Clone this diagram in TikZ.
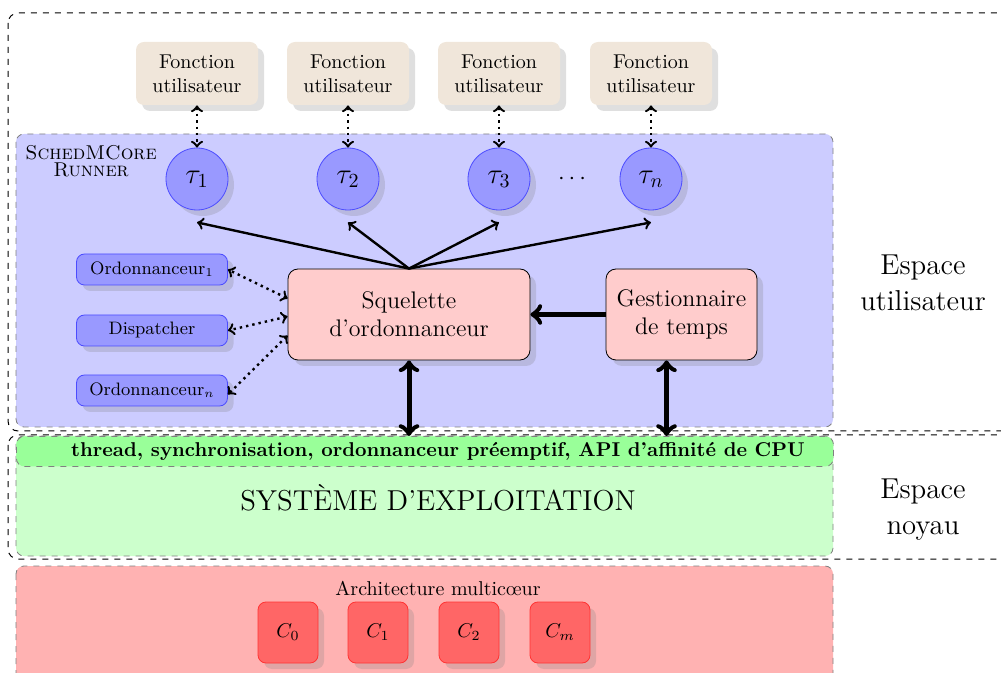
\documentclass[tikz,border=0pt]{standalone}
\usepackage{fontspec}
\usetikzlibrary{shadows,calc}
\definecolor{beige}{RGB}{240,230,218}
\begin{document}
\begin{tikzpicture}[x=0.5pt,y=-0.5pt,
  shd/.style={drop shadow={opacity=0.25,shadow xshift=3pt,shadow yshift=-3pt}},
  fonct/.style={rounded corners=4pt,fill=beige,minimum width=61pt,minimum height=31.5pt,align=center,inner sep=0pt,shd},
  tache/.style={circle,draw=blue!70,fill=blue!40,minimum size=31pt,inner sep=0pt,font=\Large,shd},
  petit/.style={rounded corners=4pt,draw=blue!70,fill=blue!40,minimum width=75.5pt,minimum height=15.5pt,inner sep=0pt,font=\small,shd},
  bloc/.style={rounded corners=5pt,draw=black,fill=red!20,align=center,inner sep=0pt,font=\large,shd},
  coeur/.style={rounded corners=4pt,draw=red!80,fill=red!60,minimum width=30pt,minimum height=30.5pt,inner sep=0pt,shd},
  zone/.style={rounded corners=4pt,draw=gray,dashed},
  espace/.style={rounded corners=5pt,draw=black,line width=0.5pt,dashed},
  dotarr/.style={<->,very thick,dotted},
  grosarr/.style={line width=2.5pt}
]
\useasboundingbox (0,0) rectangle (1001,673);
% outer spaces
\draw[espace] (8,13) rectangle (1020,431);
\draw[espace] (8,435) rectangle (1020,559);
% zones
\draw[zone,fill=blue!20] (16,134) rectangle (833,427);
\draw[zone,fill=green!20] (16,436) rectangle (833,556);
\node[zone,fill=green!40,minimum width=408.5pt,minimum height=15pt,inner sep=0pt,anchor=north west] (strip) at (16,436) {};
\node[font=\bfseries] (striptxt) at (438,451) {thread, synchronisation, ordonnanceur préemptif, API d'affinité de CPU};
\draw[zone,fill=red!30] (16,566) rectangle (833,700);
% labels
\node[align=center,font=\Large] (eu) at (923,283) {Espace\\utilisateur};
\node[align=center,font=\Large] (en) at (923,510) {Espace\\noyau};
\node[align=center,inner sep=1pt] (runner) at (91,161) {\textsc{SchedMCore}\\[-3.5pt]\textsc{Runner}};
\node[font=\Large] (os) at (438,498) {SYSTÈME D'EXPLOITATION};
\node (archi) at (438,588) {Architecture multicœur};
% fonctions
\foreach \i/\x in {1/197,2/348,3/499,4/651}{
  \node[fonct] (f\i) at (\x,73.5) {Fonction\\utilisateur};
}
\node[tache] (t1) at (197,179) {$\tau_1$};
\node[tache] (t2) at (348,179) {$\tau_2$};
\node[tache] (t3) at (499,179) {$\tau_3$};
\node[tache] (t4) at (651,179) {$\tau_n$};
\node[font=\large] (dots) at (572,179) {$\cdots$};
\foreach \i in {1,2,3,4}{\draw[dotarr] (f\i) -- (t\i);}
% blocs
\node[bloc,minimum width=121pt,minimum height=45.5pt] (sq) at (409,314.5) {Squelette\\d'ordonnanceur};
\node[bloc,minimum width=75.5pt,minimum height=45.5pt] (gt) at (681.5,314.5) {Gestionnaire\\de temps};
\node[petit] (o1) at (152,269.5) {Ordonnanceur$_1$};
\node[petit] (dp) at (152,330.5) {Dispatcher};
\node[petit] (on) at (152,390.5) {Ordonnanceur$_n$};
% arrows
\foreach \i in {1,2,3,4}{\draw[->,very thick] (sq.north) -- ([yshift=-6pt]t\i.south);}
\draw[dotarr] ([yshift=8pt]sq.west) -- (o1.east);
\draw[dotarr] ([yshift=-1pt]sq.west) -- (dp.east);
\draw[dotarr] ([yshift=-10.5pt]sq.west) -- ([yshift=-2pt]on.east);
\draw[grosarr,->] (gt.west) -- (sq.east);
\draw[grosarr,<->] (sq.south) -- (sq.south |- strip.north);
\coordinate (gb) at ([xshift=-7.5pt]gt.south);
\draw[grosarr,<->] (gb) -- (gb |- strip.north);
% coeurs
\node[coeur] (c0) at (288,632.5) {$C_0$};
\node[coeur] (c1) at (378,632.5) {$C_1$};
\node[coeur] (c2) at (469,632.5) {$C_2$};
\node[coeur] (cm) at (560,632.5) {$C_m$};
\end{tikzpicture}
\end{document}
